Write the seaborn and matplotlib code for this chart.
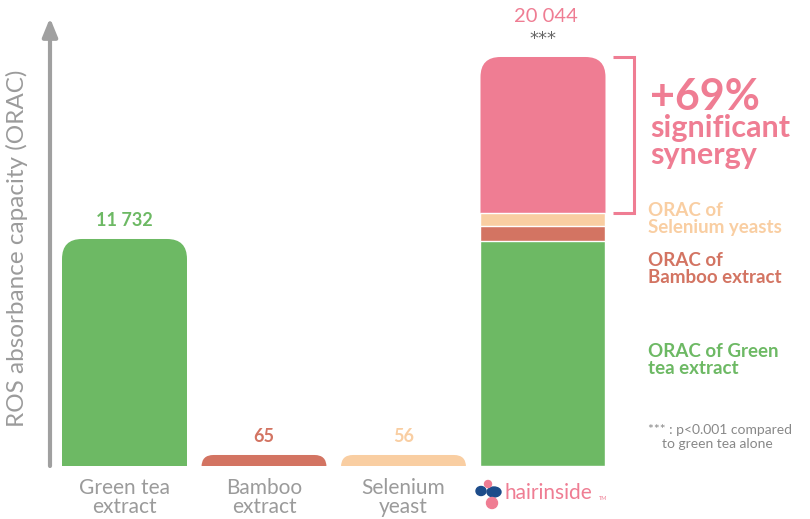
import matplotlib
matplotlib.use("Agg")
import matplotlib.pyplot as plt
import seaborn as sns
import pandas as pd
from matplotlib.patches import FancyBboxPatch, Circle, Ellipse

# data
categories = ["Green tea extract", "Bamboo extract", "Selenium yeast", "hairinside"]
tick_labels = ["Green tea\nextract", "Bamboo\nextract", "Selenium\nyeast", ""]
single_values = [11732, 65, 56]
single_labels = ["11 732", "65", "56"]
# drawn heights as they appear in the picture (tiny bars are drawn visible)
single_heights = [11125, 540, 540]
# stacked bar segments (bottom to top)
stack_names = ["Green tea", "Bamboo", "Selenium", "Synergy"]
stack_heights = [11027, 735, 637, 7645]
total_label = "20 044"

green = "#6DB964"
bamboo = "#D37462"
selenium = "#F9CEA2"
pink = "#EF7D93"
grey = "#9B9B9B"
single_colors = [green, bamboo, selenium]
stack_colors = [green, bamboo, selenium, pink]

sns.set_style("white")
plt.rcParams["font.family"] = ["Lato", "DejaVu Sans"]

fig = plt.figure(figsize=(8.1, 5.19), dpi=100)
ax = fig.add_axes([40 / 810, 53 / 519, 590 / 810, 466 / 519])

# single bars
df = pd.DataFrame({"cat": categories[:3], "h": single_heights})
sns.barplot(data=df, x="cat", y="h", hue="cat", order=categories,
            palette=single_colors, width=0.896, saturation=1, legend=False, ax=ax)

# stacked bar: draw cumulative totals from the top down
cum = []
s = 0
for h in stack_heights:
    s += h
    cum.append(s)
for c, col in zip(cum[::-1], stack_colors[::-1]):
    sns.barplot(x=[categories[3]], y=[c], order=categories, color=col,
                width=0.896, saturation=1, ax=ax)

ax.set_xlim(-0.6057, 3.6237)
ax.set_ylim(0, 22837)

# rounded tops: first three bars and the full stacked bar
ma = (22837 / 466) * 139.5
rounded = []
for p in list(ax.patches):
    if p.get_height() <= 0:
        continue
    x0, w, h = p.get_x(), p.get_width(), p.get_height()
    if h in single_heights or h == cum[-1]:
        r_px = 20 if h > 5000 else 12
        rounded.append((x0, w, h, p.get_facecolor(), r_px))
        p.remove()
for x0, w, h, fc, r_px in rounded:
    ax.add_patch(FancyBboxPatch((x0, -3000), w, h + 3000,
                                boxstyle=f"round,pad=0,rounding_size={r_px / 139.5}",
                                mutation_aspect=ma, fc=fc, ec="none", zorder=0.9))

ax.set_xticks(range(4))
ax.set_xticklabels(tick_labels, color=grey, fontsize=15, linespacing=0.9)
ax.tick_params(axis="x", length=0, pad=9)
ax.set_yticks([])
ax.set_xlabel("")
ax.set_ylabel("")
sns.despine(ax=ax, left=True, bottom=True)

# value labels
for i, (lab, h, col) in enumerate(zip(single_labels, single_heights, single_colors)):
    ax.text(i, h + 500, lab, ha="center", va="bottom", color=col,
            fontsize=13, fontweight="bold")

# overlay in pixel coordinates for decorations
ov = fig.add_axes([0, 0, 1, 1], zorder=5)
ov.set_xlim(0, 810)
ov.set_ylim(519, 0)
ov.axis("off")
ov.patch.set_alpha(0)

ov.annotate("", xy=(50, 18), xytext=(50, 466),
            arrowprops=dict(arrowstyle="-|>,head_width=0.45,head_length=1.1",
                            lw=3, color="#A0A0A0", shrinkA=0, shrinkB=0))
ov.text(17, 248, "ROS absorbance capacity (ORAC)", rotation=90, ha="center",
        va="center", color=grey, fontsize=17.5)

ov.text(546, 16, total_label, ha="center", va="center", color=pink, fontsize=14.5)
ov.text(543, 39, "***", ha="center", va="center", color="#666666", fontsize=13,
        family="DejaVu Sans")

# bracket
ov.plot([613, 634, 634, 613], [57, 57, 213, 213], color=pink, lw=2.2,
        solid_capstyle="butt", solid_joinstyle="miter")

ov.text(650, 97, "+69%", ha="left", va="center", color=pink, fontsize=31,
        fontweight="bold")
ov.text(650, 128, "significant", ha="left", va="center", color=pink,
        fontsize=22, fontweight="bold")
ov.text(650, 155, "synergy", ha="left", va="center", color=pink,
        fontsize=22, fontweight="bold")

ov.text(648, 219, "ORAC of\nSelenium yeasts", ha="left", va="center",
        color=selenium, fontsize=13.5, fontweight="bold", linespacing=0.95)
ov.text(648, 269, "ORAC of\nBamboo extract", ha="left", va="center",
        color=bamboo, fontsize=13.5, fontweight="bold", linespacing=0.95)
ov.text(648, 360, "ORAC of Green\ntea extract", ha="left", va="center",
        color=green, fontsize=13.5, fontweight="bold", linespacing=0.95)
ov.text(648, 437, "*** : p<0.001 compared\n    to green tea alone", ha="left",
        va="center", color="#888888", fontsize=10, linespacing=1.1)

# logo
blue = "#1D4C8A"
ov.add_patch(Ellipse((481, 491), 10, 9, color=blue))
ov.add_patch(Ellipse((494, 492), 14, 10, color=blue))
ov.add_patch(Circle((488, 484), 3.5, color=pink))
ov.add_patch(Circle((492, 503), 5.5, color=pink))
ov.text(505, 493, "hairinside", ha="left", va="center", color=pink, fontsize=15)
ov.text(599, 498, "TM", ha="left", va="center", color=pink, fontsize=4)

fig.savefig("out.png", dpi=100)
